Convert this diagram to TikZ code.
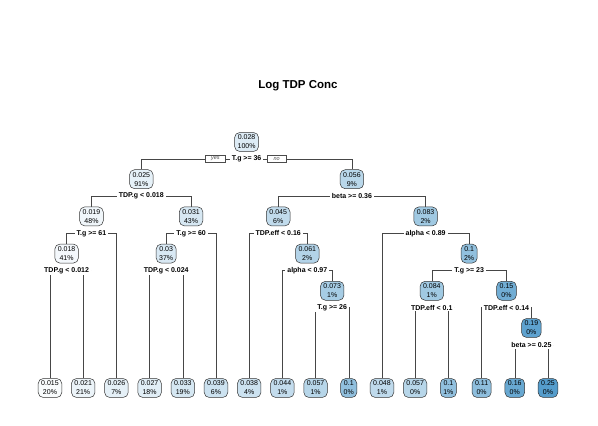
\documentclass[tikz,border=0pt]{standalone}
\usepackage{fontspec}
\setmainfont{Liberation Sans}
\usepackage{tikz}
\usetikzlibrary{positioning, backgrounds}
\definecolor{bl}{RGB}{66,146,198}
\definecolor{branchgray}{RGB}{70,70,70}

\begin{document}
\begin{tikzpicture}[x=1pt, y=1pt,
    tnode/.style={draw=black!80, line width=0.5pt, fill=bl!#1!white, rounded corners=5pt,
        align=center, inner xsep=3pt, inner ysep=2.5pt, font=\fontsize{7}{9}\selectfont},
    split/.style={fill=white, inner xsep=2pt, inner ysep=1pt, outer sep=0pt,
        font=\fontsize{7}{8}\selectfont\bfseries},
    yesno/.style={draw=black!70, fill=white, line width=0.4pt, inner xsep=6pt, inner ysep=1pt,
        minimum height=7pt, font=\fontsize{5.5}{6}\selectfont\itshape, text=black!70},
    branch/.style={draw=branchgray, line width=0.6pt}]

    \useasboundingbox (0,0) rectangle (598,426);

    % --- Title ---
    \node[font=\fontsize{11.5}{13}\selectfont\bfseries] (title) at (298,340) {Log TDP Conc};

    % --- Root ---
    \node[tnode=18] (root) at (246.6,284) {0.028\\100\%};
    \node[split] (sroot) at (246.6,267) {T.g >= 36};
    \node[yesno, left=4pt of sroot] (yes) {yes};
    \node[yesno, right=4pt of sroot] (no) {no};

    % --- Depth 1 ---
    \node[tnode=13] (n025) at (141.3,246.8) {0.025\\91\%};
    \node[split] (s025) at (141.3,229.8) {TDP.g < 0.018};
    \node[tnode=37] (n056) at (351.9,246.8) {0.056\\9\%};
    \node[split] (s056) at (351.9,229.8) {beta >= 0.36};

    % --- Depth 2 ---
    \node[tnode=8] (n019) at (91.5,209.6) {0.019\\48\%};
    \node[split] (s019) at (91.5,192.6) {T.g >= 61};
    \node[tnode=21] (n031) at (191.1,209.6) {0.031\\43\%};
    \node[split] (s031) at (191.1,192.6) {T.g >= 60};
    \node[tnode=33] (n045) at (278.25,209.6) {0.045\\6\%};
    \node[split] (s045) at (278.25,192.6) {TDP.eff < 0.16};
    \node[tnode=50] (n083) at (425.6,209.6) {0.083\\2\%};
    \node[split] (s083) at (425.6,192.6) {alpha < 0.89};

    % --- Depth 3 ---
    \node[tnode=6] (n018) at (66.6,172.4) {0.018\\41\%};
    \node[split] (s018) at (66.6,155.4) {TDP.g < 0.012};
    \node[tnode=20] (n03) at (166.2,172.4) {0.03\\37\%};
    \node[split] (s03) at (166.2,155.4) {TDP.g < 0.024};
    \node[tnode=40] (n061) at (307.3,172.4) {0.061\\2\%};
    \node[split] (s061) at (307.3,155.4) {alpha < 0.97};
    \node[tnode=58] (n1) at (469.15,172.4) {0.1\\2\%};
    \node[split] (s1) at (469.15,155.4) {T.g >= 23};

    % --- Depth 4 ---
    \node[tnode=47] (n073) at (332.2,135.2) {0.073\\1\%};
    \node[split] (s073) at (332.2,118.2) {T.g >= 26};
    \node[tnode=50] (n084) at (431.8,135.2) {0.084\\1\%};
    \node[split] (s084) at (431.8,118.2) {TDP.eff < 0.1};
    \node[tnode=75] (n15) at (506.5,135.2) {0.15\\0\%};
    \node[split] (s15) at (506.5,118.2) {TDP.eff < 0.14};

    % --- Depth 5 ---
    \node[tnode=85] (n19) at (531.4,98) {0.19\\0\%};
    \node[split] (s19) at (531.4,81) {beta >= 0.25};

    % --- Leaves ---
    \foreach \val/\pct/\sh [count=\i from 0] in {0.015/20/3, 0.021/21/10, 0.026/7/14,
        0.027/18/16, 0.033/19/22, 0.039/6/27, 0.038/4/27, 0.044/1/32, 0.057/1/38,
        0.1/0/58, 0.048/1/34, 0.057/0/38, 0.1/1/58, 0.11/0/60, 0.16/0/80, 0.25/0/90}
        \node[tnode=\sh] (lf\i) at ({50+33.2*\i},38) {\val\\\pct\%};

    % --- Branches ---
    \begin{scope}[on background layer]
        % root split
        \draw[branch] (sroot) -- (yes);
        \draw[branch] (yes) -| (n025);
        \draw[branch] (sroot) -- (no);
        \draw[branch] (no) -| (n056);
        % left side
        \draw[branch] (s025) -| (n019);
        \draw[branch] (s025) -| (n031);
        \draw[branch] (s019) -| (n018);
        \draw[branch] (s019) -| (lf2);
        \draw[branch] (s018) -| (lf0);
        \draw[branch] (s018) -| (lf1);
        \draw[branch] (s031) -| (n03);
        \draw[branch] (s031) -| (lf5);
        \draw[branch] (s03) -| (lf3);
        \draw[branch] (s03) -| (lf4);
        % right side
        \draw[branch] (s056) -| (n045);
        \draw[branch] (s056) -| (n083);
        \draw[branch] (s045) -| (lf6);
        \draw[branch] (s045) -| (n061);
        \draw[branch] (s061) -| (lf7);
        \draw[branch] (s061) -| (n073);
        \draw[branch] (s073) -| (lf8);
        \draw[branch] (s073) -| (lf9);
        \draw[branch] (s083) -| (lf10);
        \draw[branch] (s083) -| (n1);
        \draw[branch] (s1) -| (n084);
        \draw[branch] (s1) -| (n15);
        \draw[branch] (s084) -| (lf11);
        \draw[branch] (s084) -| (lf12);
        \draw[branch] (s15) -| (lf13);
        \draw[branch] (s15) -| (n19);
        \draw[branch] (s19) -| (lf14);
        \draw[branch] (s19) -| (lf15);
    \end{scope}

\end{tikzpicture}
\end{document}
